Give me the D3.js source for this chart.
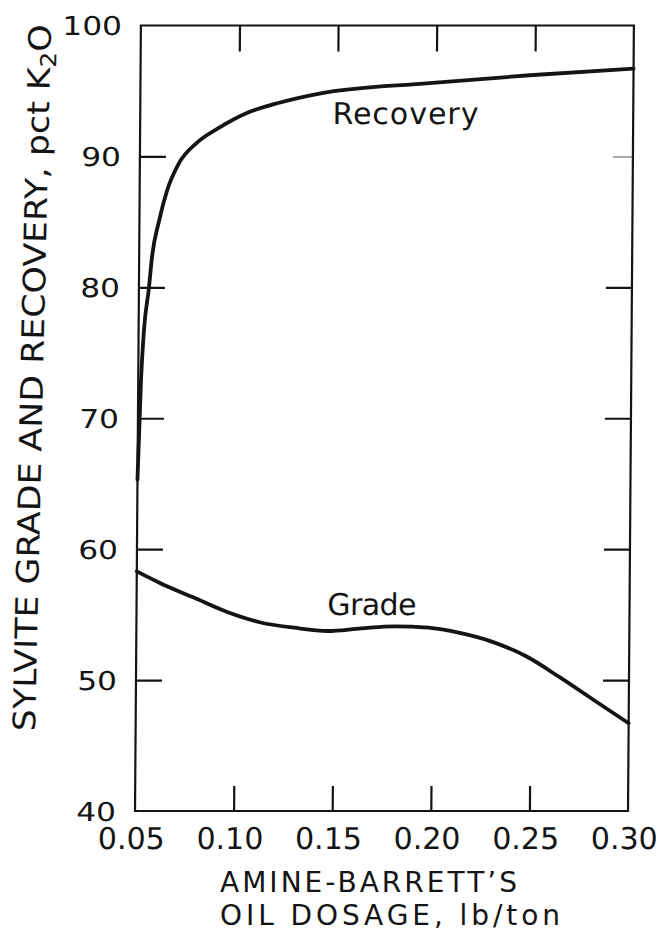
<!DOCTYPE html>
<html>
<head>
<meta charset="utf-8">
<script src="https://cdn.jsdelivr.net/npm/d3@7"></script>
<style>
  html, body { margin: 0; padding: 0; background: #fff; }
  svg { display: block; }
</style>
</head>
<body>
<svg id="chart" width="660" height="933"></svg>
<script>
// Axis ticks and labels
const xTicks = [0.05, 0.10, 0.15, 0.20, 0.25, 0.30];
const xTickLabels = ["0.05", "0.10", "0.15", "0.20", "0.25", "0.30"];
const yTicks = [40, 50, 60, 70, 80, 90, 100];
const yTickLabels = ["40", "50", "60", "70", "80", "90", "100"];

// Recovery, pct K2O, against amine-Barrett's oil dosage (lb/ton)
const recoveryDosage = [0.050, 0.0514, 0.0527, 0.0551, 0.0565, 0.060, 0.0639, 0.0699, 0.0785, 0.0901, 0.1038, 0.1205, 0.1408, 0.1966, 0.2474, 0.300];
const recoveryPct    = [65.3, 72.9, 76.7, 80.0, 82.3, 85.1, 87.4, 89.5, 91.0, 92.2, 93.3, 94.1, 94.8, 95.6, 96.2, 96.7];

// Sylvite grade, pct K2O
const gradeDosage = [0.050, 0.062, 0.079, 0.096, 0.113, 0.130, 0.147, 0.164, 0.181, 0.198, 0.214, 0.231, 0.248, 0.265, 0.282, 0.300];
const gradePct    = [58.3, 57.4, 56.3, 55.2, 54.4, 54.0, 53.75, 53.95, 54.1, 54.0, 53.6, 52.9, 51.8, 50.2, 48.5, 46.7];

(function () {
  const ink = "#141414";
  const numFont = "'DejaVu Sans', 'Liberation Sans', sans-serif";

  const svg = d3.select("#chart");
  const x = d3.scaleLinear().domain([0.05, 0.30]).range([135, 628]);
  const y = d3.scaleLinear().domain([40, 100]).range([811, 25.5]);

  // the whole plate leans very slightly to the right toward the top
  const plot = svg.append("g")
    .attr("transform", "translate(0,811) skewX(-0.43) translate(0,-811)");

  // frame
  plot.append("rect")
    .attr("x", x(0.05)).attr("y", y(100))
    .attr("width", x(0.30) - x(0.05)).attr("height", y(40) - y(100))
    .attr("fill", "none").attr("stroke", ink).attr("stroke-width", 2.2);

  function styleAxis(g) {
    g.select(".domain").remove();
    g.selectAll(".tick line").attr("stroke", ink).attr("stroke-width", 2.2);
    g.attr("font-family", numFont).attr("font-size", null);
  }

  // left axis: inward ticks, wide round numerals
  const yLabelScale = 1.2;
  const leftAxis = plot.append("g")
    .attr("transform", `translate(${x(0.05)},0)`)
    .call(d3.axisLeft(y).tickValues(yTicks).tickSizeInner(-26).tickSizeOuter(0)
      .tickPadding(20).tickFormat((d, i) => yTickLabels[i]));
  styleAxis(leftAxis);
  leftAxis.selectAll(".tick line").filter(d => d === 40 || d === 100).remove();
  leftAxis.selectAll(".tick text")
    .attr("fill", ink).attr("font-size", 26)
    .attr("x", -19 / yLabelScale).attr("dy", "0.36em")
    .attr("transform", `scale(${yLabelScale},1)`);

  // right axis: ticks only
  const rightAxis = plot.append("g")
    .attr("transform", `translate(${x(0.30)},0)`)
    .call(d3.axisRight(y).tickValues(yTicks.filter(d => d > 40 && d < 100))
      .tickSizeInner(-26).tickSizeOuter(0).tickFormat(""));
  styleAxis(rightAxis);
  rightAxis.selectAll(".tick line").filter(d => d === 90)
    .attr("stroke-width", 1).attr("stroke", "#555").attr("x2", -20);

  // top axis: ticks only
  const topAxis = plot.append("g")
    .attr("transform", `translate(0,${y(100)})`)
    .call(d3.axisTop(x).tickValues(xTicks.slice(1, -1))
      .tickSizeInner(-26).tickSizeOuter(0).tickFormat(""));
  styleAxis(topAxis);

  // bottom axis: inward ticks on the interior, labels at every tick
  const bottomAxis = plot.append("g")
    .attr("transform", `translate(0,${y(40)})`)
    .call(d3.axisBottom(x).tickValues(xTicks).tickSizeInner(-25).tickSizeOuter(0)
      .tickFormat((d, i) => xTickLabels[i]));
  styleAxis(bottomAxis);
  bottomAxis.selectAll(".tick line").filter(d => d === 0.05 || d === 0.30).remove();
  bottomAxis.selectAll(".tick text")
    .attr("fill", ink).attr("font-size", 30)
    .attr("x", -4).attr("y", 38).attr("dy", 0);

  // curves
  const line = d3.line()
    .x(d => x(d[0]))
    .y(d => y(d[1]))
    .curve(d3.curveMonotoneX);

  plot.append("path")
    .datum(d3.zip(recoveryDosage, recoveryPct))
    .attr("d", line)
    .attr("fill", "none").attr("stroke", ink)
    .attr("stroke-width", 3.8).attr("stroke-linejoin", "round").attr("stroke-linecap", "round");

  plot.append("path")
    .datum(d3.zip(gradeDosage, gradePct))
    .attr("d", line)
    .attr("fill", "none").attr("stroke", ink)
    .attr("stroke-width", 3.8).attr("stroke-linejoin", "round").attr("stroke-linecap", "round");

  // curve names
  plot.append("text")
    .attr("x", x(0.1475)).attr("y", y(92.5))
    .attr("font-family", numFont).attr("font-size", 30).attr("fill", ink)
    .attr("textLength", 146).attr("lengthAdjust", "spacing")
    .text("Recovery");

  plot.append("text")
    .attr("x", x(0.1468)).attr("y", y(55.0))
    .attr("font-family", numFont).attr("font-size", 30).attr("fill", ink)
    .attr("textLength", 89).attr("lengthAdjust", "spacing")
    .text("Grade");

  // y-axis title, set slightly off vertical, tall narrow lettering
  const yTitle = svg.append("text")
    .attr("transform", "translate(43,378) rotate(-88.7)")
    .attr("text-anchor", "middle")
    .attr("font-family", "'DejaVu Sans Condensed', 'DejaVu Sans', sans-serif")
    .style("font-stretch", "condensed")
    .attr("font-size", 31).attr("fill", ink)
    .attr("textLength", 707).attr("lengthAdjust", "spacingAndGlyphs");
  yTitle.append("tspan").text("SYLVITE GRADE AND RECOVERY, pct K");
  yTitle.append("tspan").attr("font-size", 22).attr("dy", 6).text("2");
  yTitle.append("tspan").attr("dy", -6).text("O");

  // x-axis title, two lines
  const xTitleLines = [
    { text: "AMINE-BARRETT\u2019S", len: 297, base: 892 },
    { text: "OIL DOSAGE, lb/ton", len: 340, base: 925 }
  ];
  svg.selectAll("text.xtitle")
    .data(xTitleLines)
    .join("text")
    .attr("class", "xtitle")
    .attr("x", 220).attr("y", d => d.base)
    .attr("font-family", numFont).attr("font-size", 28).attr("fill", ink)
    .attr("textLength", d => d.len).attr("lengthAdjust", "spacing")
    .text(d => d.text);
})();
</script>
</body>
</html>
